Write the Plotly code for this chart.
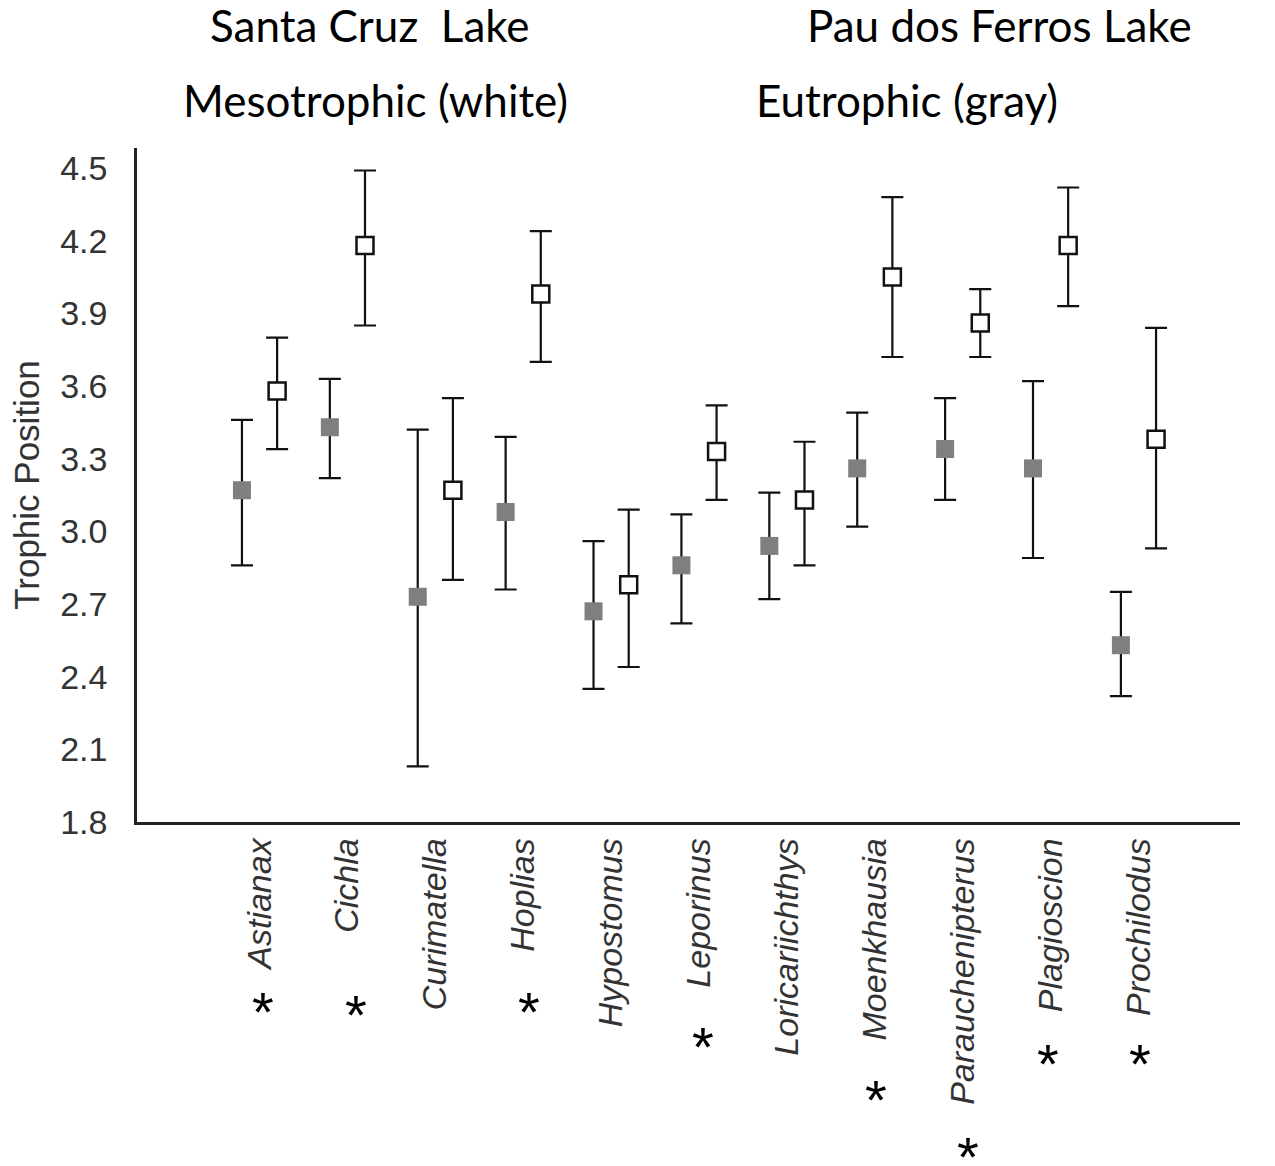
import plotly.graph_objects as go

species = ["Astianax", "Cichla", "Curimatella", "Hoplias", "Hypostomus", "Leporinus",
           "Loricariichthys", "Moenkhausia", "Parauchenipterus", "Plagioscion", "Prochilodus"]

# Eutrophic (gray) - Pau dos Ferros Lake
gray_mean = [3.17, 3.43, 2.73, 3.08, 2.67, 2.86, 2.94, 3.26, 3.34, 3.26, 2.53]
gray_upper = [3.46, 3.63, 3.42, 3.39, 2.96, 3.07, 3.16, 3.49, 3.55, 3.62, 2.75]
gray_lower = [2.86, 3.22, 2.03, 2.76, 2.35, 2.62, 2.72, 3.02, 3.13, 2.89, 2.32]

# Mesotrophic (white) - Santa Cruz Lake
white_mean = [3.58, 4.18, 3.17, 3.98, 2.78, 3.33, 3.13, 4.05, 3.86, 4.18, 3.38]
white_upper = [3.80, 4.49, 3.55, 4.24, 3.09, 3.52, 3.37, 4.38, 4.00, 4.42, 3.84]
white_lower = [3.34, 3.85, 2.80, 3.70, 2.44, 3.13, 2.86, 3.72, 3.72, 3.93, 2.93]

y_ticks = [1.8, 2.1, 2.4, 2.7, 3.0, 3.3, 3.6, 3.9, 4.2, 4.5]

significant = ["Astianax", "Cichla", "Hoplias", "Leporinus", "Moenkhausia",
               "Parauchenipterus", "Plagioscion", "Prochilodus"]

idx = list(range(len(species)))
OFF = 0.2

fig = go.Figure()
fig.add_trace(go.Scatter(
    x=[i - OFF for i in idx], y=gray_mean, mode="markers",
    marker=dict(symbol="square", size=18, color="#7f7f7f", line=dict(width=0)),
    error_y=dict(type="data", symmetric=False,
                 array=[u - m for u, m in zip(gray_upper, gray_mean)],
                 arrayminus=[m - l for m, l in zip(gray_mean, gray_lower)],
                 color="#111111", thickness=2.2, width=11),
    showlegend=False, name="Eutrophic"))
fig.add_trace(go.Scatter(
    x=[i + OFF for i in idx], y=white_mean, mode="markers",
    marker=dict(symbol="square", size=17, color="white", line=dict(width=2.5, color="#111111")),
    error_y=dict(type="data", symmetric=False,
                 array=[u - m for u, m in zip(white_upper, white_mean)],
                 arrayminus=[m - l for m, l in zip(white_mean, white_lower)],
                 color="#111111", thickness=2.2, width=11),
    showlegend=False, name="Mesotrophic"))

L, R, T, B = 137, 35, 148, 344
W, H = 1275, 1166
plot_h = H - T - B
plot_w = W - L - R

def py2paper(py):
    return (H - B - py) / plot_h

def px2paper(px):
    return (px - L) / plot_w

# asterisk vertical placement (pixel rows of glyph centre) per flagged species
star_rows = {"Astianax": 1005, "Cichla": 1008, "Hoplias": 1005, "Leporinus": 1040,
             "Moenkhausia": 1093, "Parauchenipterus": 1150, "Plagioscion": 1057,
             "Prochilodus": 1057}
star_dx = {"Astianax": 0.04, "Cichla": 0.1, "Hoplias": 0.07, "Leporinus": 0.05,
           "Moenkhausia": 0.01, "Parauchenipterus": 0.06, "Plagioscion": -0.03,
           "Prochilodus": 0.02}
STAR_SIZE = 56
annotations = []
for s in significant:
    i = species.index(s)
    annotations.append(dict(x=i + star_dx[s], y=py2paper(star_rows[s] - 27), xref="x", yref="paper",
                            text="*", showarrow=False, yanchor="top",
                            font=dict(family="Liberation Sans, Arial", size=STAR_SIZE, color="black")))

title_font = dict(family="Lato, Open Sans, sans-serif", size=44, color="black")
for txt, px, pyy in [("Santa Cruz  Lake", 370, 25), ("Pau dos Ferros Lake", 999, 25),
                     ("Mesotrophic (white)", 375, 100), ("Eutrophic (gray)", 907, 100)]:
    annotations.append(dict(x=px2paper(px), y=py2paper(pyy), xref="paper", yref="paper",
                            xanchor="center", yanchor="middle", text=txt,
                            showarrow=False, font=title_font))

fig.update_layout(
    width=W, height=H,
    margin=dict(l=L, r=R, t=T, b=B, pad=0),
    paper_bgcolor="white", plot_bgcolor="white",
    annotations=annotations,
    xaxis=dict(range=[-1.394, 11.155], tickmode="array", tickvals=idx,
               ticktext=["<i>%s</i>" % s for s in species], tickangle=-90,
               showgrid=False, zeroline=False, showline=True, linecolor="#222222",
               linewidth=2.5, ticks="", ticklabelstandoff=0,
               tickfont=dict(family="Liberation Sans, Arial", size=34, color="#333333")),
    yaxis=dict(range=[1.8, 4.583], tickmode="array", tickvals=y_ticks,
               ticktext=["%.1f" % v for v in y_ticks],
               showgrid=False, zeroline=False, showline=True, linecolor="#222222",
               linewidth=2.5, ticks="", ticklabelstandoff=20,
               tickfont=dict(family="Liberation Sans, Arial", size=34, color="#333333"),
               title=dict(text="Trophic Position", standoff=10,
                          font=dict(family="Liberation Sans, Arial", size=35, color="#333333"))),
)

fig.write_html("out.html")
